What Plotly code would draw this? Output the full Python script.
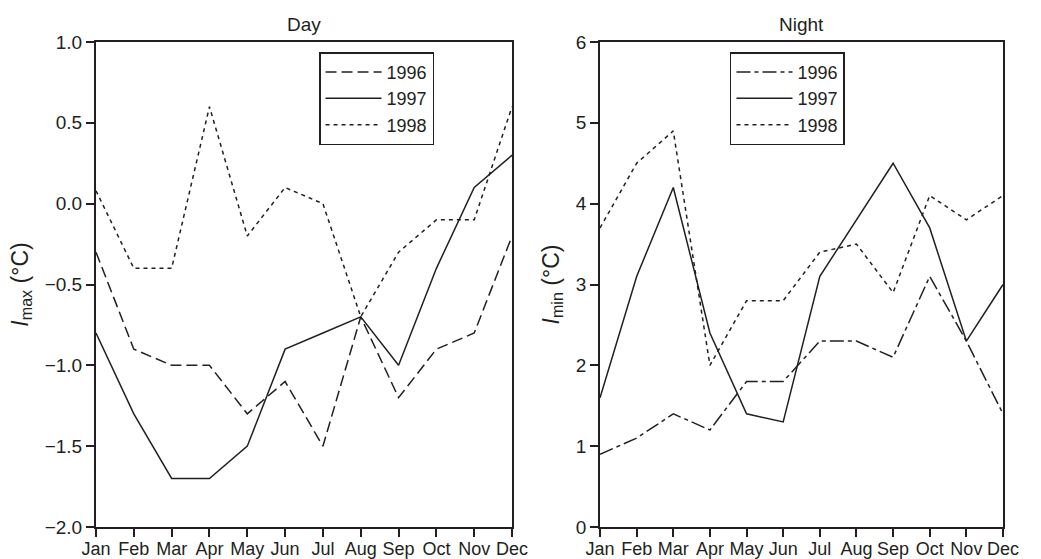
import plotly.graph_objects as go

months = ["Jan", "Feb", "Mar", "Apr", "May", "Jun", "Jul", "Aug", "Sep", "Oct", "Nov", "Dec"]
years = ["1996", "1997", "1998"]

day_1996 = [-0.3, -0.9, -1.0, -1.0, -1.3, -1.1, -1.5, -0.7, -1.2, -0.9, -0.8, -0.2]
day_1997 = [-0.8, -1.3, -1.7, -1.7, -1.5, -0.9, -0.8, -0.7, -1.0, -0.4, 0.1, 0.3]
day_1998 = [0.08, -0.4, -0.4, 0.6, -0.2, 0.1, 0.0, -0.7, -0.3, -0.1, -0.1, 0.6]

night_1996 = [0.9, 1.1, 1.4, 1.2, 1.8, 1.8, 2.3, 2.3, 2.1, 3.1, 2.3, 1.4]
night_1997 = [1.6, 3.1, 4.2, 2.4, 1.4, 1.3, 3.1, 3.8, 4.5, 3.7, 2.3, 3.0]
night_1998 = [3.7, 4.5, 4.9, 2.0, 2.8, 2.8, 3.4, 3.5, 2.9, 4.1, 3.8, 4.1]

INK = "#231f20"
FONT = "Liberation Sans, Arial, sans-serif"

fig = go.Figure()

day_styles = ["11px,5px", "solid", "4px,4px"]
night_styles = ["14px,4px,4px,4px", "solid", "4px,4px"]

for name, vals, dash in zip(years, [day_1996, day_1997, day_1998], day_styles):
    fig.add_trace(go.Scatter(x=months, y=vals, mode="lines", name=name,
                             line=dict(color=INK, width=1.5, dash=dash),
                             xaxis="x", yaxis="y", legend="legend"))
for name, vals, dash in zip(years, [night_1996, night_1997, night_1998], night_styles):
    fig.add_trace(go.Scatter(x=months, y=vals, mode="lines", name=name,
                             line=dict(color=INK, width=1.5, dash=dash),
                             xaxis="x2", yaxis="y2", legend="legend2"))

axis_common = dict(showline=True, linecolor=INK, linewidth=2, mirror=True,
                   ticks="outside", ticklen=8, tickwidth=1.5, tickcolor=INK,
                   showgrid=False, zeroline=False, automargin=False)

xfont = dict(family=FONT, size=18, color=INK)
yfont = dict(family=FONT, size=19, color=INK)
title_font = dict(family=FONT, size=23, color=INK)

leg_common = dict(bordercolor=INK, borderwidth=1.5, bgcolor="white",
                  font=dict(family=FONT, size=18, color=INK),
                  xanchor="left", yanchor="top", tracegroupgap=0,
                  itemwidth=56)

fig.update_layout(
    width=1041, height=559,
    margin=dict(l=96, r=38, t=42, b=32),
    paper_bgcolor="white", plot_bgcolor="white",
    font=dict(family=FONT, color=INK),
    xaxis=dict(domain=[0, 0.4587], range=[0, 11], anchor="y", tickfont=xfont,
               ticklabelstandoff=-4, **axis_common),
    yaxis=dict(domain=[0, 1], range=[-2.0, 1.0], dtick=0.5, tickformat=".1f",
               anchor="x", tickfont=yfont,
               title=dict(text="<i>I</i><sub>max</sub> (°C)", standoff=10,
                          font=title_font),
               **axis_common),
    xaxis2=dict(domain=[0.5557, 1], range=[0, 11], anchor="y2", tickfont=xfont,
                ticklabelstandoff=-4, **axis_common),
    yaxis2=dict(domain=[0, 1], range=[0, 6], dtick=1, anchor="x2", tickfont=yfont,
                title=dict(text="<i>I</i><sub>min</sub> (°C)", standoff=10,
                           font=title_font),
                **axis_common),
    legend=dict(x=0.2459, y=0.979, **leg_common),
    legend2=dict(x=0.699, y=0.979, **leg_common),
    annotations=[
        dict(text="Day", x=0.2293, y=1.0, xref="paper", yref="paper",
             xanchor="center", yanchor="bottom", yshift=5, showarrow=False,
             font=dict(family=FONT, size=19, color=INK)),
        dict(text="Night", x=0.7778, y=1.0, xref="paper", yref="paper",
             xanchor="center", yanchor="bottom", yshift=5, showarrow=False,
             font=dict(family=FONT, size=19, color=INK)),
    ],
)

fig.write_html("out.html", config={"displayModeBar": False},
               post_script="document.body.style.margin='0';document.body.style.padding='0';")
